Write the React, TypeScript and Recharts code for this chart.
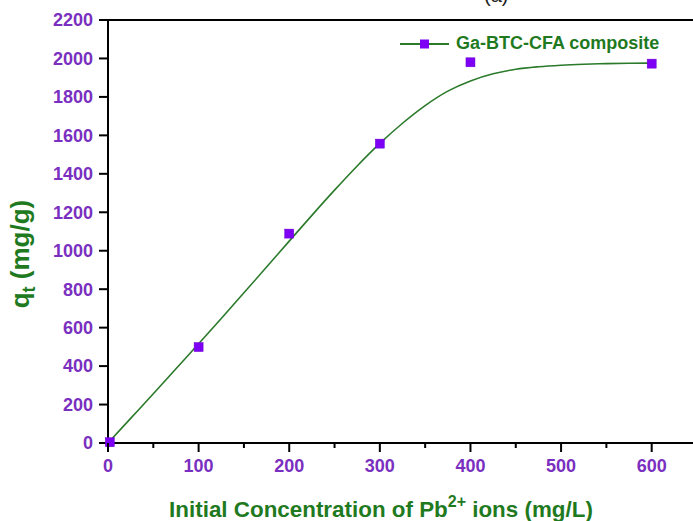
import React from "react";
import {
  ComposedChart,
  Line,
  Scatter,
  XAxis,
  YAxis,
  Legend,
  ReferenceLine,
  Label,
} from "recharts";

// measured points: initial Pb2+ concentration (mg/L) vs uptake qt (mg/g)
const concentration = [2, 100, 200, 300, 400, 600];
const uptake = [4, 499, 1089, 1557, 1980, 1973];

// fitted curve
const fitConcentration = [
  0, 25, 50, 75, 100, 125, 150, 175, 200, 225, 250, 275, 300, 325, 350, 375,
  400, 425, 450, 475, 500, 525, 550, 575, 600,
];
const fitUptake = [
  0, 128, 256, 386, 516, 648, 781, 915, 1050, 1184, 1315, 1441, 1558, 1663,
  1755, 1830, 1883, 1920, 1944, 1957, 1965, 1970, 1973, 1975, 1976,
];

const xTicks = [0, 50, 100, 150, 200, 250, 300, 350, 400, 450, 500, 550, 600, 650];
const yTicks = [0, 200, 400, 600, 800, 1000, 1200, 1400, 1600, 1800, 2000, 2200];

const SERIES_NAME = "Ga-BTC-CFA composite";

const FONT = "Arial, 'Liberation Sans', sans-serif";
const PURPLE_TEXT = "#7a2fc0";
const GREEN_TEXT = "#1f7a1f";
const LINE_GREEN = "#2b7a2b";
const MARKER = "#7d00f5";

const points = concentration.map((x, i) => ({ x, y: uptake[i] }));
const fit = fitConcentration.map((x, i) => ({ x, y: fitUptake[i] }));

const XTick = (props: any) => {
  const { x, y, payload } = props;
  const major = payload.value % 100 === 0;
  return (
    <g>
      <line x1={x} x2={x} y1={y} y2={y + (major ? 9 : 5)} stroke="#000" strokeWidth={2} />
      {major && payload.value <= 600 && (
        <text
          x={x}
          y={y + 29}
          textAnchor="middle"
          fill={PURPLE_TEXT}
          fontSize={18}
          fontWeight={700}
          fontFamily={FONT}
        >
          {payload.value}
        </text>
      )}
    </g>
  );
};

const SquareDot = (props: any) => {
  const { cx, cy } = props;
  return <rect x={cx - 4.5} y={cy - 4.5} width={9} height={9} fill={MARKER} stroke="#6a00d0" strokeWidth={0.5} />;
};

const LegendBox = () => (
  <div style={{ display: "flex", alignItems: "center", fontFamily: FONT }}>
    <svg width={52} height={20}>
      <line x1={1} x2={50} y1={10} y2={10} stroke={LINE_GREEN} strokeWidth={2} />
      <rect x={21} y={5.5} width={9} height={9} fill={MARKER} />
    </svg>
    <span style={{ marginLeft: 5, color: GREEN_TEXT, fontSize: 18, fontWeight: 700 }}>
      {SERIES_NAME}
    </span>
  </div>
);

export default function App() {
  return (
    <div
      style={{
        position: "fixed",
        left: 0,
        top: 0,
        width: 693,
        height: 521,
        overflow: "hidden",
        background: "#fff",
      }}
    >
      <div
        style={{
          position: "absolute",
          left: 484,
          top: -16,
          fontFamily: FONT,
          fontSize: 20,
          color: "#222",
        }}
      >
        (a)
      </div>
      <ComposedChart
        width={720}
        height={521}
        margin={{ top: 20, right: 23, bottom: 18, left: 0 }}
      >
        <XAxis
          type="number"
          dataKey="x"
          domain={[0, 650]}
          ticks={xTicks}
          interval={0}
          tick={<XTick />}
          tickLine={false}
          tickSize={0}
          tickMargin={0}
          axisLine={{ stroke: "#000", strokeWidth: 2 }}
          height={60}
        >
          <Label
            content={() => (
              <text
                x={381}
                y={517}
                textAnchor="middle"
                fill={GREEN_TEXT}
                fontSize={22.4}
                fontWeight={700}
                fontFamily={FONT}
              >
                Initial Concentration of Pb
                <tspan dy={-10} fontSize={16}>2+</tspan>
                <tspan dy={10}> ions (mg/L)</tspan>
              </text>
            )}
          />
        </XAxis>
        <YAxis
          type="number"
          dataKey="y"
          domain={[0, 2200]}
          ticks={yTicks}
          interval={0}
          width={108}
          tickSize={9}
          tickMargin={6}
          tickLine={{ stroke: "#000", strokeWidth: 2 }}
          axisLine={{ stroke: "#000", strokeWidth: 2 }}
          tick={{ fill: PURPLE_TEXT, fontSize: 18, fontWeight: 700, fontFamily: FONT }}
        >
          <Label
            content={() => (
              <text
                x={29}
                y={254}
                transform="rotate(-90, 29, 254)"
                textAnchor="middle"
                fill={GREEN_TEXT}
                fontSize={26}
                fontWeight={700}
                fontFamily={FONT}
              >
                q
                <tspan dy={6} fontSize={18}>t</tspan>
                <tspan dy={-6}> (mg/g)</tspan>
              </text>
            )}
          />
        </YAxis>
        <ReferenceLine y={2200} stroke="#000" strokeWidth={2} />
        <ReferenceLine x={650} stroke="#000" strokeWidth={2} />
        <Line
          data={fit}
          dataKey="y"
          type="monotone"
          stroke={LINE_GREEN}
          strokeWidth={1.6}
          dot={false}
          activeDot={false}
          isAnimationActive={false}
          legendType="none"
        />
        <Scatter
          data={points}
          dataKey="y"
          name={SERIES_NAME}
          shape={<SquareDot />}
          isAnimationActive={false}
        />
        <Legend
          layout="horizontal"
          verticalAlign="middle"
          align="center"
          content={() => <LegendBox />}
          wrapperStyle={{ position: "absolute", left: 399, top: 33, width: "auto" }}
        />
      </ComposedChart>
    </div>
  );
}
